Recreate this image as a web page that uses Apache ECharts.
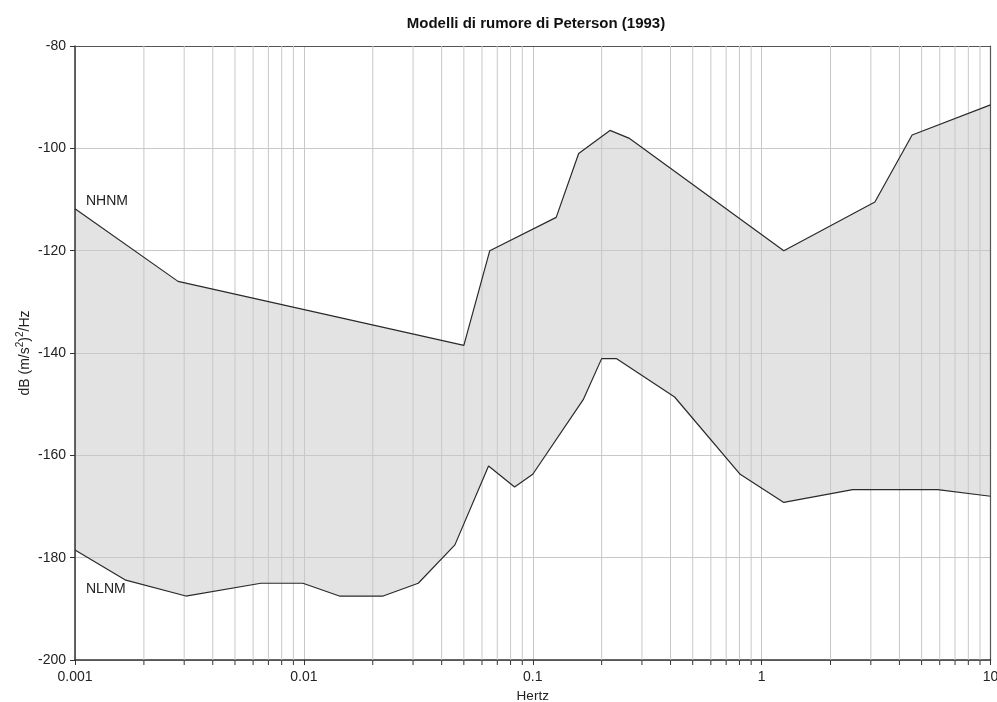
<!DOCTYPE html>
<html>
<head>
<meta charset="utf-8">
<script src="https://cdn.jsdelivr.net/npm/echarts@6/dist/echarts.min.js"></script>
<style>
html,body{margin:0;padding:0;background:#fff;}
#chart{width:997px;height:702px;}
</style>
</head>
<body>
<div id="chart"></div>
<script>
// Frequency (Hz) and level (dB) breakpoints
const nhnmFreq = [0.001, 0.00282, 0.05, 0.0649, 0.1266, 0.1587, 0.2174, 0.263, 1.25, 3.125, 4.545, 10];
const nhnmDb   = [-111.8, -126.0, -138.5, -120.0, -113.5, -101.0, -96.5, -98.0, -120.0, -110.5, -97.4, -91.5];

const nlnmFreq = [0.001, 0.001667, 0.00305, 0.00649, 0.0099, 0.01429, 0.0222, 0.0316, 0.0457, 0.0641, 0.0833, 0.1, 0.1667, 0.2, 0.2326, 0.4167, 0.806, 1.25, 2.5, 5.88, 10];
const nlnmDb   = [-178.5, -184.4, -187.5, -185.0, -185.0, -187.5, -187.5, -185.0, -177.5, -162.1, -166.2, -163.7, -149.0, -141.1, -141.1, -148.6, -163.7, -169.2, -166.7, -166.7, -168.0];

const xTickLabels = ['0.001', '0.01', '0.1', '1', '10'];
const yTickLabels = ['-200', '-180', '-160', '-140', '-120', '-100', '-80'];
const minorFreqs = [];
['0.001','0.01','0.1','1'].forEach(function(d){
  [2,3,4,5,6,7,8,9].forEach(function(m){ minorFreqs.push(Number(d) * m); });
});

const zip = (xs, ys) => xs.map((x, i) => [x, ys[i]]);
const nhnm = zip(nhnmFreq, nhnmDb);
const nlnm = zip(nlnmFreq, nlnmDb);

const FONT = 'Liberation Sans, Arial, sans-serif';
const xMin = Number(xTickLabels[0]), xMax = Number(xTickLabels[xTickLabels.length-1]);
const yMin = Number(yTickLabels[0]), yMax = Number(yTickLabels[yTickLabels.length-1]);

const chart = echarts.init(document.getElementById('chart'), null, {renderer: 'canvas'});
chart.setOption({
  animation: false,
  backgroundColor: '#fff',
  title: {
    text: 'Modelli di rumore di Peterson (1993)',
    left: 531, top: 11, textAlign: 'center',
    textStyle: {fontFamily: FONT, fontSize: 15, fontWeight: 'bold', color: '#111'}
  },
  grid: {left: 75, right: 6.5, top: 46, bottom: 42, outerBoundsMode: 'none', containLabel: false},
  xAxis: [{
    type: 'log', logBase: 10, min: xMin, max: xMax, z: 3,
    name: 'Hertz', nameLocation: 'middle', nameGap: 29, nameMoveOverlap: false,
    nameTextStyle: {fontFamily: FONT, fontSize: 13.5, color: '#222'},
    axisLine: {show: true, lineStyle: {color: '#333', width: 1.5}},
    axisTick: {show: true, length: 5, lineStyle: {color: '#333'}},
    axisLabel: {
      fontFamily: FONT, fontSize: 14, color: '#222', margin: 10,
      formatter: function(v){
        for (const s of xTickLabels) { if (Math.abs(Math.log10(Number(s)) - Math.log10(v)) < 1e-6) return s; }
        return '';
      }
    },
    splitLine: {show: true, lineStyle: {color: '#c8c8c8', width: 1}}
  }, {
    type: 'log', logBase: 10, min: xMin, max: xMax, position: 'top', z: 3,
    axisLine: {show: true, lineStyle: {color: '#555', width: 1.2}},
    axisTick: {show: false}, axisLabel: {show: false}, splitLine: {show: false}
  }],
  yAxis: [{
    type: 'value', min: yMin, max: yMax, interval: 20, z: 3,
    name: 'dB (m/s{sup|2}){sup|2}/Hz', nameLocation: 'middle', nameGap: 40, nameRotate: 90, nameMoveOverlap: false,
    nameTextStyle: {
      fontFamily: FONT, fontSize: 14, color: '#222', lineHeight: 20,
      rich: {sup: {fontFamily: FONT, fontSize: 10, color: '#222', verticalAlign: 'top', lineHeight: 20, padding: [0,0,9,0]}}
    },
    axisLine: {show: true, lineStyle: {color: '#333', width: 1.5}},
    axisTick: {show: true, length: 5, lineStyle: {color: '#333'}},
    axisLabel: {fontFamily: FONT, fontSize: 14, color: '#222', margin: 9},
    splitLine: {show: true, lineStyle: {color: '#c8c8c8', width: 1}}
  }, {
    type: 'value', min: yMin, max: yMax, interval: 20, position: 'right', z: 3,
    axisLine: {show: true, lineStyle: {color: '#555', width: 1.2}},
    axisTick: {show: false}, axisLabel: {show: false}, splitLine: {show: false}
  }],
  graphic: [
    {type: 'text', z: 20, left: 86, top: 194, style: {text: 'NHNM', font: '14px ' + FONT, fill: '#222'}},
    {type: 'text', z: 20, left: 86, top: 582, style: {text: 'NLNM', font: '14px ' + FONT, fill: '#222'}}
  ],
  series: [
    {
      name: 'NHNM fill', type: 'line', data: nhnm, z: 1, symbol: 'none', silent: true,
      lineStyle: {width: 0}, areaStyle: {color: '#e3e3e3', opacity: 1, origin: 'start'}
    },
    {
      name: 'NLNM fill', type: 'line', data: nlnm, z: 1.5, symbol: 'none', silent: true,
      lineStyle: {width: 0}, areaStyle: {color: '#ffffff', opacity: 1, origin: 'start'}
    },
    {
      name: 'minor', type: 'custom', z: 4, clip: false, silent: true,
      data: minorFreqs.map(f => [f, yMin]),
      encode: {x: 0, y: 1},
      renderItem: function(params, api){
        const v = api.value(0);
        const top = api.coord([v, yMax]);
        const bot = api.coord([v, yMin]);
        return {type: 'group', children: [
          {type: 'line', shape: {x1: top[0], y1: top[1], x2: bot[0], y2: bot[1]}, style: {stroke: '#c8c8c8', lineWidth: 1}},
          {type: 'line', shape: {x1: bot[0], y1: bot[1], x2: bot[0], y2: bot[1] + 5}, style: {stroke: '#333', lineWidth: 1}}
        ]};
      }
    },
    {
      name: 'NHNM', type: 'line', data: nhnm, z: 6, symbol: 'none',
      lineStyle: {color: '#2a2a2a', width: 1.2}
    },
    {
      name: 'NLNM', type: 'line', data: nlnm, z: 6, symbol: 'none',
      lineStyle: {color: '#2a2a2a', width: 1.2}
    }
  ]
});
</script>
</body>
</html>
